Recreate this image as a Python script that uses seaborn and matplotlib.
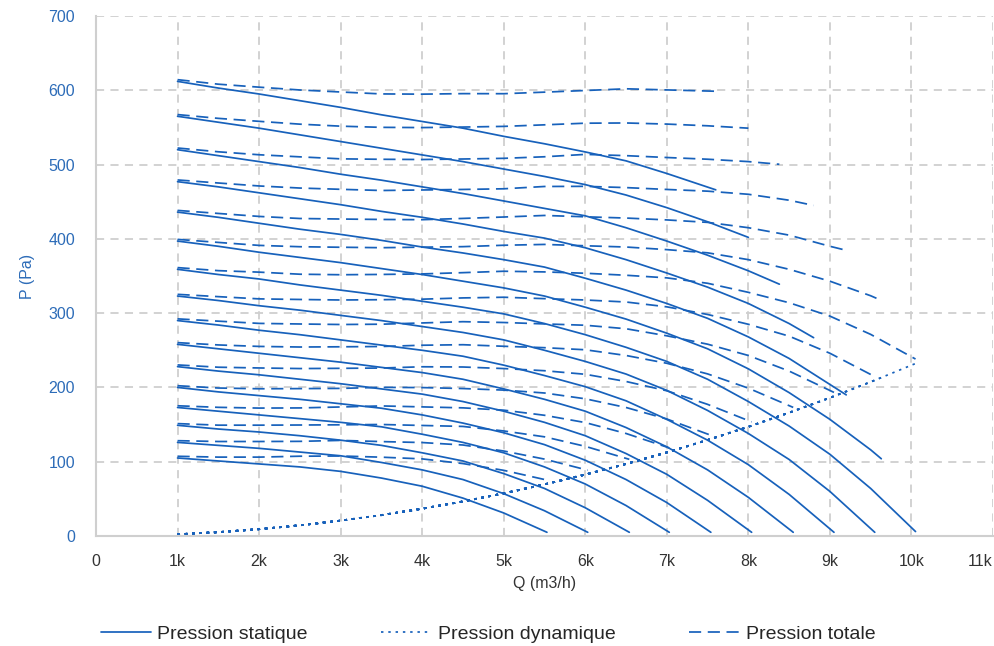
import matplotlib
matplotlib.use("Agg")
import matplotlib.pyplot as plt
import seaborn as sns
import pandas as pd
from matplotlib.lines import Line2D

# Débit (k m3/h) sur la grille de lecture
q_grid = [1.0, 1.5, 2.0, 2.5, 3.0, 3.5, 4.0, 4.5, 5.0, 5.5,
          6.0, 6.5, 7.0, 7.5, 8.0, 8.5, 9.0, 9.5, 10.0]

static_1 = [612, 603, 595, 586, 577, 567, 558, 549, 538, 528, 517, 505, 488]
static_2 = [565, 557, 549, 540, 531, 522, 513, 504, 494, 484, 473, 459, 442, 423]
static_3 = [520, 512, 504, 496, 487, 479, 470, 461, 451, 441, 431, 415, 397, 378, 357]
static_4 = [477, 470, 462, 454, 446, 437, 429, 420, 410, 401, 388, 372, 354, 335, 313, 286]
static_5 = [436, 429, 421, 413, 406, 398, 389, 381, 372, 362, 347, 331, 313, 293, 268, 239, 204]
static_6 = [397, 390, 382, 375, 368, 360, 352, 343, 334, 323, 308, 292, 273, 252, 225, 193, 157, 116]
static_7 = [359, 352, 346, 338, 331, 324, 316, 308, 299, 286, 271, 254, 235, 211, 181, 148, 110, 64]
static_8 = [323, 317, 310, 304, 297, 290, 282, 274, 264, 250, 235, 218, 196, 169, 138, 103, 60]
static_9 = [290, 284, 277, 271, 264, 257, 250, 242, 230, 216, 201, 182, 157, 129, 96, 56]
static_10 = [258, 252, 246, 240, 234, 227, 220, 211, 198, 184, 168, 146, 120, 89, 52]
static_11 = [228, 222, 217, 211, 205, 198, 191, 181, 168, 153, 135, 111, 83, 48]
static_12 = [200, 194, 189, 184, 178, 172, 163, 152, 139, 123, 102, 76, 45]
static_13 = [173, 168, 163, 158, 153, 147, 137, 126, 112, 93, 70, 41]
static_14 = [149, 144, 140, 135, 129, 122, 112, 101, 84, 64, 38]
static_15 = [126, 122, 118, 113, 108, 99, 89, 76, 57, 34]
static_16 = [105, 101, 97, 93, 87, 78, 67, 51, 31]

# fin de chaque courbe
q_end = [7.6, 8.0, 8.38, 8.8, 9.2, 9.63, 10.05, 9.55, 9.05, 8.55, 8.04, 7.54, 7.03, 6.54, 6.03, 5.53]
static_end = [466, 402, 339, 267, 190, 104, 6, 5, 5, 5, 5, 5, 5, 5, 5, 5]

dyn_grid = [2.3, 5.2, 9.2, 14.4, 20.7, 28.1, 36.8, 46.5, 57.4, 69.5,
            82.7, 97.0, 112.5, 129.2, 147.0, 166.0, 186.0, 207.4, 229.7]
dyn_end = [132.7, 147.0, 161.4, 178.0, 194.6, 213.2, 232.2, 209.6,
           188.3, 168.1, 148.6, 130.6, 113.6, 98.2, 83.6, 70.3]

x_ticks = [0, 1000, 2000, 3000, 4000, 5000, 6000, 7000, 8000, 9000, 10000, 11000]
x_tick_labels = ["0", "1k", "2k", "3k", "4k", "5k", "6k", "7k", "8k", "9k", "10k", "11k"]
y_ticks = [0, 100, 200, 300, 400, 500, 600, 700]

kinds = ["Pression statique", "Pression dynamique", "Pression totale"]

static_curves = [static_1, static_2, static_3, static_4, static_5, static_6, static_7, static_8,
                 static_9, static_10, static_11, static_12, static_13, static_14, static_15, static_16]

rows = []
for i, vals in enumerate(static_curves):
    n = len(vals)
    qs = q_grid[:n] + [q_end[i]]
    ps = vals + [static_end[i]]
    ds = dyn_grid[:n] + [dyn_end[i]]
    for q, p, d in zip(qs, ps, ds):
        rows.append({"curve": i, "Q": q * 1000, "kind": kinds[0], "P": p})
        rows.append({"curve": i, "Q": q * 1000, "kind": kinds[1], "P": d})
        rows.append({"curve": i, "Q": q * 1000, "kind": kinds[2], "P": p + d})
df = pd.DataFrame(rows)

blue = "#1761bb"
grid_col = "#cfcfcf"
lw = 1.25
dot_style = (0, (1.4, 2.8))
dash_style = (0, (7.0, 3.8))

sns.set_style("white")
plt.rcParams["font.family"] = ["Liberation Sans", "DejaVu Sans"]

fig = plt.figure(figsize=(9.94, 6.46), dpi=100)
ax = fig.add_axes([96 / 994, 110 / 646, 897 / 994, 520 / 646])

dash_map = {kinds[0]: "", kinds[1]: dot_style[1], kinds[2]: dash_style[1]}
sns.lineplot(data=df, x="Q", y="P", units="curve", estimator=None, style="kind",
             style_order=kinds, dashes=dash_map, color=blue, linewidth=lw,
             sort=False, legend=False, ax=ax)

ax.set_xlim(0, 11000)
ax.set_ylim(0, 700)
ax.set_xticks(x_ticks)
ax.set_xticklabels(x_tick_labels)
ax.get_xticklabels()[-1].set_horizontalalignment("right")
ax.set_yticks(y_ticks)
ax.grid(True, color=grid_col, linestyle=(0, (4.5, 3.5)), linewidth=1.3)
for s in ["top", "right"]:
    ax.spines[s].set_visible(False)
for s in ["left", "bottom"]:
    ax.spines[s].set_color(grid_col)
    ax.spines[s].set_linewidth(1.5)
ax.tick_params(axis="both", length=8, width=1.3, color=grid_col, direction="out")
ax.tick_params(axis="y", labelcolor="#2d6cb8", labelsize=11.5, pad=7)
ax.tick_params(axis="x", labelcolor="#333333", labelsize=11.5, pad=5)
ax.set_xlabel("Q (m3/h)", fontsize=11.5, color="#333333", labelpad=5)
ax.set_ylabel("P (Pa)", fontsize=11.5, color="#2d6cb8", labelpad=10)

handles = [
    Line2D([], [], color=blue, linewidth=lw, linestyle="-"),
    Line2D([], [], color=blue, linewidth=lw, linestyle=dot_style),
    Line2D([], [], color=blue, linewidth=lw, linestyle=dash_style),
]
fig.legend(handles, kinds, loc="center", bbox_to_anchor=(0.491, 1 - 634 / 646), ncol=3,
           frameon=False, fontsize=14, handlelength=2.6, handletextpad=0.3,
           columnspacing=3.8)

fig.savefig("out.png", dpi=100)
